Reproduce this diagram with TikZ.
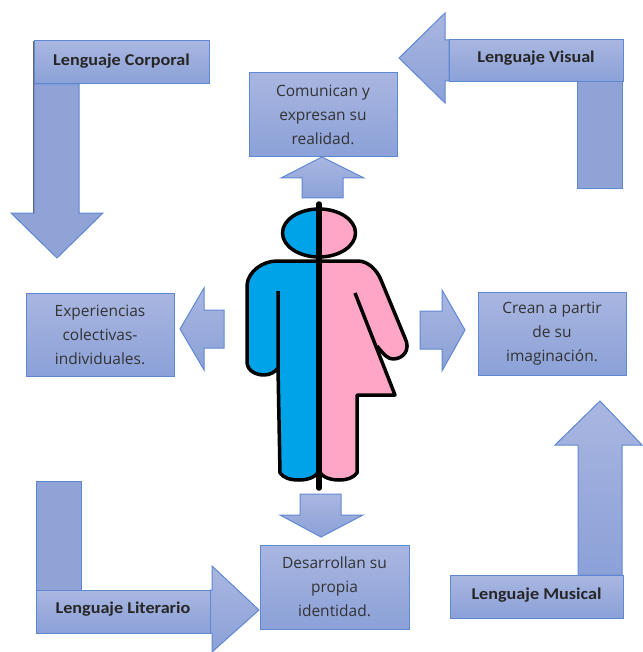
\documentclass[tikz,border=0pt]{standalone}
\usepackage{fontspec}
\setmainfont{Carlito}[FakeStretch=1.1]
\newfontfamily\bodyfont{Open Sans}
\definecolor{gtop}{HTML}{A9B6E0}
\definecolor{gbot}{HTML}{8BA1D8}
\definecolor{edgeblue}{HTML}{5F88D2}
\definecolor{shaftc}{HTML}{8FA3D6}
\definecolor{manblue}{HTML}{00A2E8}
\definecolor{womanpink}{HTML}{FFA6C6}
\newcommand{\lifted}[2]{\raisebox{#1pt}{#2}}
\tikzset{
  x=1pt,y=-1pt,
  panel/.style={draw=edgeblue,line width=1pt,top color=gtop,bottom color=gbot,shading angle=0},
  shaft/.style={draw=edgeblue,line width=1pt,fill=shaftc},
  labelbox/.style={panel,minimum width=#1,minimum height=42pt,inner sep=0pt,font=\bfseries\fontsize{16.5}{18}\selectfont,text=black!85},
  infobox/.style={panel,minimum width=148pt,minimum height=83pt,inner sep=0pt,align=center,font=\bodyfont\fontsize{15.5}{24}\selectfont,text=black!80},
  figline/.style={draw=black,line width=3.5pt,line join=round},
}
\begin{document}
\begin{tikzpicture}
\useasboundingbox (0,0) rectangle (642,652);
% long arrows
\draw[shaft] (34,84) -- (79,84) -- (79,213) -- (103,213) -- (57,258) -- (11,213) -- (34,213) -- cycle;
\draw[shaft] (577,81) -- (622,81) -- (622,189) -- (577,189) -- cycle;
\draw[panel] (449,40) -- (445,40) -- (445,13) -- (399,58) -- (445,103) -- (445,81) -- (449,81) -- cycle;
\draw[shaft] (36,481) -- (81,481) -- (81,590) -- (36,590) -- cycle;
\draw[panel] (210,590) -- (212,590) -- (212,566) -- (259,610) -- (212,652) -- (212,633) -- (210,633) -- cycle;
\draw[panel] (578,575) -- (578,445) -- (555,445) -- (600,401) -- (642,445) -- (622,445) -- (622,575) -- cycle;
% label boxes
\node[labelbox=175pt,minimum height=43pt] (corporal) at (121.5,62.5) {\lifted{5.5}{Lenguaje Corporal}};
\draw[line width=1pt,draw=black!60] (33.5,41) -- (33.5,213);
\node[labelbox=174pt] (visual) at (536,60.5) {\lifted{7}{Lenguaje Visual}};
\node[labelbox=174pt,minimum height=43pt] (literario) at (123,611.5) {\lifted{7}{Lenguaje Literario}};
\node[labelbox=173pt,minimum height=43pt] (musical) at (536.5,596.5) {\lifted{6.5}{Lenguaje Musical}};
% info boxes
\node[infobox,minimum height=84pt] (comunican) at (323,115) {Comunican y\\expresan su\\realidad.};
\node[infobox] (experiencias) at (100,334.5) {Experiencias\\colectivas-\\individuales.};
\node[infobox] (crean) at (552,333.5) {Crean a partir\\de su\\imaginación.};
\node[infobox,minimum width=149pt,minimum height=84pt] (desarrollan) at (334.5,587) {Desarrollan su\\propia\\identidad.};
% small arrows
\draw[panel] (302,198) -- (302,178) -- (281,178) -- (322,157) -- (364,178) -- (343,178) -- (343,198) -- cycle;
\draw[panel] (224,310) -- (204,310) -- (204,288) -- (180,329) -- (204,370) -- (204,348) -- (224,348) -- cycle;
\draw[panel] (420,311) -- (442,311) -- (442,290) -- (465,330) -- (442,371) -- (442,349) -- (420,349) -- cycle;
\draw[panel] (300,494) -- (341,494) -- (341,515) -- (363,515) -- (321,537) -- (280,515) -- (300,515) -- cycle;
% figure
\begin{scope}
\clip (270,200) rectangle (319,265);
\fill[manblue] (319,233) ellipse[x radius=36.5,y radius=24];
\end{scope}
\begin{scope}
\clip (319,200) rectangle (370,265);
\fill[womanpink] (319,233) ellipse[x radius=36.5,y radius=24];
\end{scope}
\fill[manblue] (319,261) -- (277,261) .. controls (262,261) and (248,272) .. (247,285) -- (247,363) .. controls (248,371) and (256,375) .. (264,375) .. controls (270,375) and (275,372) .. (278,368) -- (280,473) .. controls (284,478) and (290,480) .. (299,480) .. controls (308,480) and (316,477) .. (319,471) -- cycle;
\fill[womanpink] (319,261) -- (358,261) .. controls (368,261) and (377,270) .. (381,280) -- (405,338) .. controls (411,350) and (403,359) .. (393,359) .. controls (388,359) and (384,355) .. (377,346) -- (395,395) -- (357,395) -- (357,473) .. controls (353,478) and (347,480) .. (339,480) .. controls (330,480) and (322,477) .. (319,471) -- cycle;
\draw[figline] (319,233) ellipse[x radius=36.5,y radius=24];
\draw[figline] (319,261) -- (277,261) .. controls (262,261) and (248,272) .. (247,285) -- (247,363) .. controls (248,371) and (256,375) .. (264,375) .. controls (270,375) and (275,372) .. (278,368) -- (278,291) (278,368) -- (280,473) .. controls (284,478) and (290,480) .. (299,480) .. controls (308,480) and (316,477) .. (319,471) .. controls (322,477) and (330,480) .. (339,480) .. controls (347,480) and (353,478) .. (357,473) -- (357,395) -- (395,395) -- (355,293);
\draw[figline] (319,261) -- (358,261) .. controls (368,261) and (377,270) .. (381,280) -- (405,338) .. controls (411,350) and (403,359) .. (393,359) .. controls (388,359) and (384,355) .. (377,346);
\draw[draw=black,line width=5.5pt,line cap=round] (319,204) -- (319,488);
\end{tikzpicture}
\end{document}
